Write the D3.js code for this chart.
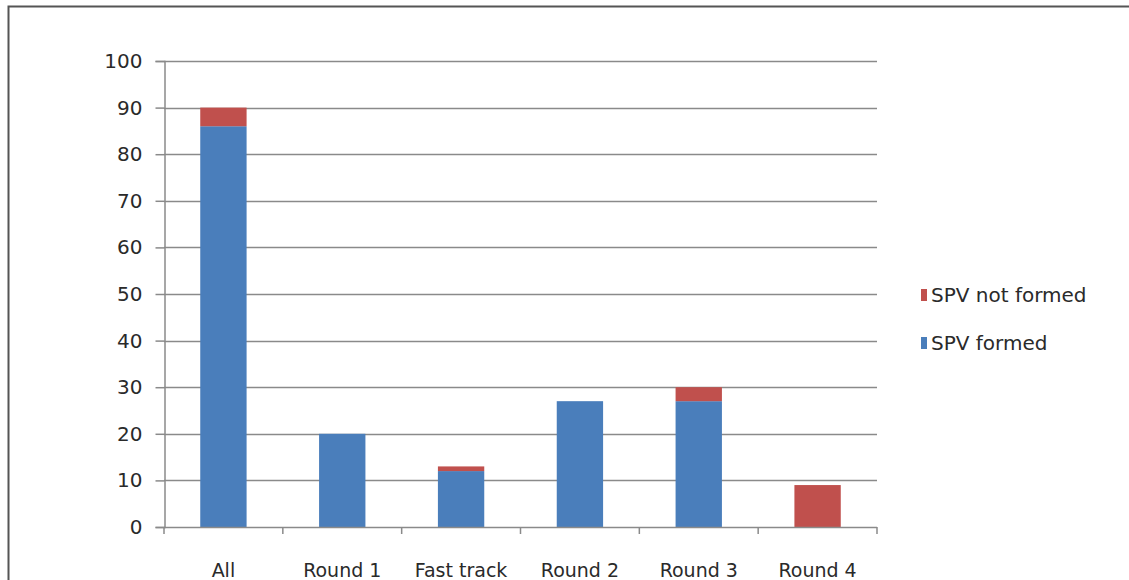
<!DOCTYPE html>
<html>
<head>
<meta charset="utf-8">
<script src="https://cdn.jsdelivr.net/npm/d3@7"></script>
<style>
  html, body { margin: 0; padding: 0; background: #fff; overflow: hidden; }
  text { font-family: "DejaVu Sans", "Noto Sans", sans-serif; fill: #2a2a2a; }
</style>
</head>
<body>
<svg id="chart" width="1129" height="580"></svg>
<script>
// Projects per application round, split by SPV status
const categories = ["All", "Round 1", "Fast track", "Round 2", "Round 3", "Round 4"];
const spvFormed = [86, 20, 12, 27, 27, 0];
const spvNotFormed = [4, 0, 1, 0, 3, 9];
const yTicks = [0, 10, 20, 30, 40, 50, 60, 70, 80, 90, 100];
const seriesNames = ["SPV formed", "SPV not formed"];
const seriesColors = ["#4a7ebb", "#c0504d"];

const svg = d3.select("#chart");

// outer frame (top and left edges visible)
svg.append("path")
  .attr("d", "M8.5,580 L8.5,6.5 L1129,6.5")
  .attr("fill", "none")
  .attr("stroke", "#555")
  .attr("stroke-width", 2);

const plot = { left: 164, right: 877, top: 61, bottom: 527 };

const x = d3.scaleBand()
  .domain(categories)
  .range([plot.left, plot.right])
  .paddingInner(0.61)
  .paddingOuter(0.305);

const xGroup = d3.scaleBand().domain(categories).range([plot.left, plot.right]);

const y = d3.scaleLinear().domain([0, 100]).range([plot.bottom, plot.top]);

// gridlines
svg.append("g")
  .selectAll("line")
  .data(yTicks.filter(d => d > 0))
  .join("line")
  .attr("x1", plot.left).attr("x2", plot.right)
  .attr("y1", d => Math.round(y(d)) + 0.5).attr("y2", d => Math.round(y(d)) + 0.5)
  .attr("stroke", "#8a8a8a").attr("stroke-width", 1.5);

// stacked bars
const rows = categories.map((c, i) => ({ cat: c, "SPV formed": spvFormed[i], "SPV not formed": spvNotFormed[i] }));
const stack = d3.stack().keys(seriesNames)(rows);

svg.append("g")
  .selectAll("g")
  .data(stack)
  .join("g")
  .attr("fill", (d, i) => seriesColors[i])
  .selectAll("rect")
  .data(d => d)
  .join("rect")
  .attr("x", d => x(d.data.cat))
  .attr("width", x.bandwidth())
  .attr("y", d => y(d[1]))
  .attr("height", d => y(d[0]) - y(d[1]));

// y axis
const yAxis = svg.append("g")
  .attr("transform", `translate(${plot.left + 0.5},0)`)
  .call(d3.axisLeft(y).tickValues(yTicks).tickSize(9).tickPadding(13));
yAxis.select(".domain").attr("stroke", "#8a8a8a").attr("stroke-width", 1.5);
yAxis.selectAll(".tick line").attr("stroke", "#8a8a8a").attr("stroke-width", 1.5);
yAxis.selectAll(".tick text")
  .attr("font-size", 20)
  .attr("font-family", "'DejaVu Sans', 'Noto Sans', sans-serif")
  .attr("fill", "#2a2a2a");

// x axis baseline with boundary ticks
const xAxisG = svg.append("g");
xAxisG.append("line")
  .attr("x1", plot.left).attr("x2", plot.right)
  .attr("y1", plot.bottom + 0.5).attr("y2", plot.bottom + 0.5)
  .attr("stroke", "#8a8a8a").attr("stroke-width", 1.5);
xAxisG.selectAll("line.tk")
  .data(categories.concat(["end"]))
  .join("line")
  .attr("class", "tk")
  .attr("x1", (d, i) => plot.left + i * xGroup.bandwidth())
  .attr("x2", (d, i) => plot.left + i * xGroup.bandwidth())
  .attr("y1", plot.bottom).attr("y2", plot.bottom + 7)
  .attr("stroke", "#8a8a8a").attr("stroke-width", 1.5);
xAxisG.selectAll("text")
  .data(categories)
  .join("text")
  .attr("x", d => x(d) + x.bandwidth() / 2)
  .attr("y", 577)
  .attr("text-anchor", "middle")
  .attr("font-size", 19)
  .text(d => d);

// legend
const legend = svg.append("g");
const legendItems = [
  { name: "SPV not formed", color: seriesColors[1], y: 302 },
  { name: "SPV formed", color: seriesColors[0], y: 350 }
];
legend.selectAll("rect")
  .data(legendItems)
  .join("rect")
  .attr("x", 921).attr("y", d => d.y - 13)
  .attr("width", 6).attr("height", 12)
  .attr("fill", d => d.color);
legend.selectAll("text")
  .data(legendItems)
  .join("text")
  .attr("x", 931).attr("y", d => d.y)
  .attr("font-size", 20)
  .text(d => d.name);
</script>
</body>
</html>
